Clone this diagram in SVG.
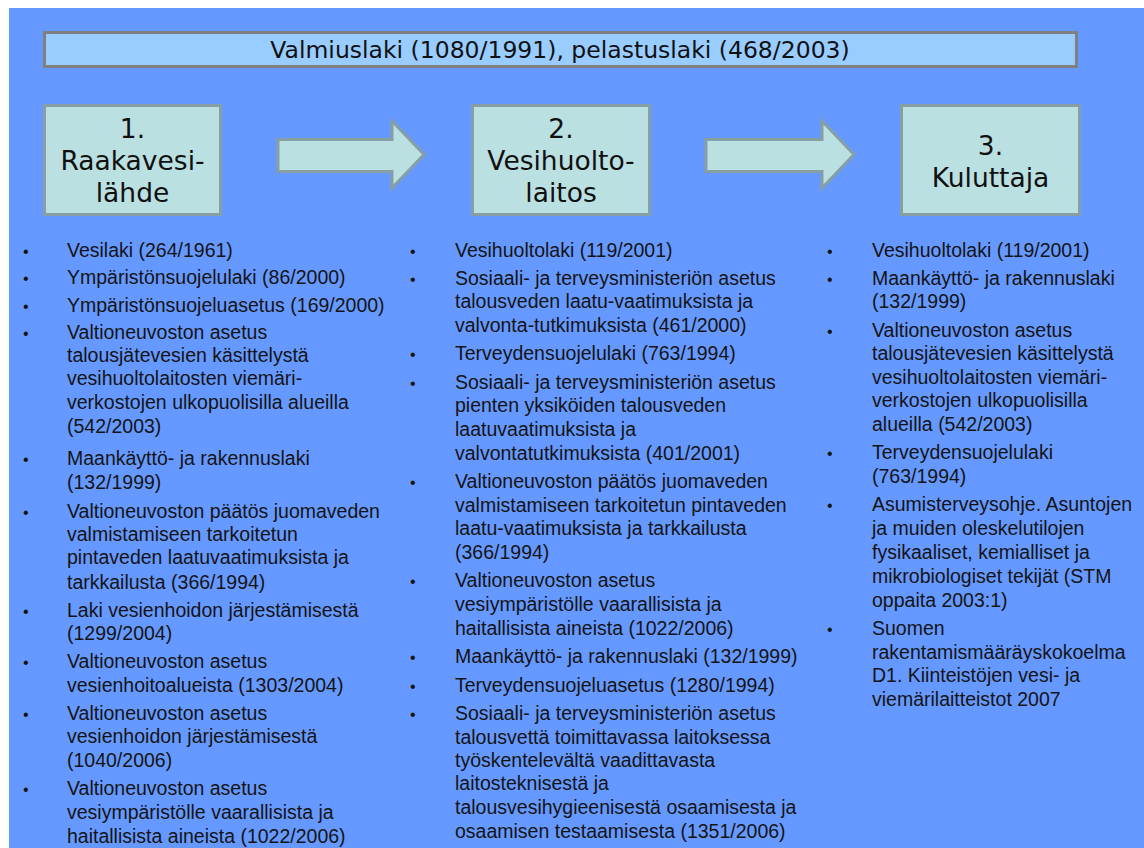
<svg xmlns="http://www.w3.org/2000/svg" width="1144" height="848" viewBox="0 0 1144 848">
<style>
.bg{fill:#6699FF}
.hdr{fill:#99CCFF;stroke:#808080;stroke-width:3}
.box{fill:#BBE0E2;stroke:#869FA3;stroke-width:3}
.arr{fill:#BBE0E2;stroke:#869FA3;stroke-width:3;stroke-linejoin:miter}
.ht{font-family:"DejaVu Sans",Verdana,sans-serif;font-size:23.5px;fill:#111;text-anchor:middle}
.bt{font-family:"DejaVu Sans",Verdana,sans-serif;font-size:26.5px;fill:#111;text-anchor:middle}
.li{font-family:"Liberation Sans",Arial,sans-serif;font-size:19.5px;fill:#141414}
.bu{font-family:"Liberation Sans",Arial,sans-serif;font-size:16px;fill:#141414}
</style>
<rect x="0" y="0" width="1144" height="848" fill="#FFFFFF"/>
<rect class="bg" x="9" y="8" width="1135" height="840"/>
<g id="header">
<rect class="hdr" x="44.5" y="32.5" width="1032" height="34"/>
<text class="ht" x="560" y="58">Valmiuslaki (1080/1991), pelastuslaki (468/2003)</text>
</g>
<g id="node1">
<rect class="box" x="44.5" y="105.5" width="176" height="109"/>
<text class="bt" x="132.5" y="138">1.</text>
<text class="bt" x="132.5" y="170">Raakavesi-</text>
<text class="bt" x="132.5" y="202">lähde</text>
</g>
<g id="node2">
<rect class="box" x="472.5" y="105.5" width="177" height="109"/>
<text class="bt" x="561" y="138">2.</text>
<text class="bt" x="561" y="170">Vesihuolto-</text>
<text class="bt" x="561" y="202">laitos</text>
</g>
<g id="node3">
<rect class="box" x="901.5" y="105.5" width="178" height="109"/>
<text class="bt" x="990.5" y="155">3.</text>
<text class="bt" x="990.5" y="187">Kuluttaja</text>
</g>
<g id="connectors">
<polygon class="arr" points="278,139.5 392,139.5 392,121 424,154.5 392,188 392,171.5 278,171.5"/>
<polygon class="arr" points="706,139.5 822,139.5 822,121 854,154.5 822,188 822,171.5 706,171.5"/>
</g>
<g id="list1">
<text class="bu" x="23" y="257">•</text><text class="li" x="67" y="257">Vesilaki (264/1961)</text>
<text class="bu" x="23" y="284">•</text><text class="li" x="67" y="284">Ympäristönsuojelulaki (86/2000)</text>
<text class="bu" x="23" y="312">•</text><text class="li" x="67" y="312">Ympäristönsuojeluasetus (169/2000)</text>
<text class="bu" x="23" y="339">•</text>
<text class="li" x="67" y="339">Valtioneuvoston asetus</text>
<text class="li" x="67" y="362">talousjätevesien käsittelystä</text>
<text class="li" x="67" y="385">vesihuoltolaitosten viemäri-</text>
<text class="li" x="67" y="409">verkostojen ulkopuolisilla alueilla</text>
<text class="li" x="67" y="433">(542/2003)</text>
<text class="bu" x="23" y="465">•</text>
<text class="li" x="67" y="465">Maankäyttö- ja rakennuslaki</text>
<text class="li" x="67" y="489">(132/1999)</text>
<text class="bu" x="23" y="518">•</text>
<text class="li" x="67" y="518">Valtioneuvoston päätös juomaveden</text>
<text class="li" x="67" y="541">valmistamiseen tarkoitetun</text>
<text class="li" x="67" y="564">pintaveden laatuvaatimuksista ja</text>
<text class="li" x="67" y="589">tarkkailusta (366/1994)</text>
<text class="bu" x="23" y="617">•</text>
<text class="li" x="67" y="617">Laki vesienhoidon järjestämisestä</text>
<text class="li" x="67" y="640">(1299/2004)</text>
<text class="bu" x="23" y="668">•</text>
<text class="li" x="67" y="668">Valtioneuvoston asetus</text>
<text class="li" x="67" y="692">vesienhoitoalueista (1303/2004)</text>
<text class="bu" x="23" y="720">•</text>
<text class="li" x="67" y="720">Valtioneuvoston asetus</text>
<text class="li" x="67" y="743">vesienhoidon järjestämisestä</text>
<text class="li" x="67" y="767">(1040/2006)</text>
<text class="bu" x="23" y="795">•</text>
<text class="li" x="67" y="795">Valtioneuvoston asetus</text>
<text class="li" x="67" y="819">vesiympäristölle vaarallisista ja</text>
<text class="li" x="67" y="843">haitallisista aineista (1022/2006)</text>
</g>
<g id="list2">
<text class="bu" x="410" y="257">•</text><text class="li" x="455" y="257">Vesihuoltolaki (119/2001)</text>
<text class="bu" x="410" y="285">•</text>
<text class="li" x="455" y="285">Sosiaali- ja terveysministeriön asetus</text>
<text class="li" x="455" y="308">talousveden laatu-vaatimuksista ja</text>
<text class="li" x="455" y="332">valvonta-tutkimuksista (461/2000)</text>
<text class="bu" x="410" y="360">•</text><text class="li" x="455" y="360">Terveydensuojelulaki (763/1994)</text>
<text class="bu" x="410" y="389">•</text>
<text class="li" x="455" y="389">Sosiaali- ja terveysministeriön asetus</text>
<text class="li" x="455" y="412">pienten yksiköiden talousveden</text>
<text class="li" x="455" y="436">laatuvaatimuksista ja</text>
<text class="li" x="455" y="460">valvontatutkimuksista (401/2001)</text>
<text class="bu" x="410" y="488">•</text>
<text class="li" x="455" y="488">Valtioneuvoston päätös juomaveden</text>
<text class="li" x="455" y="512">valmistamiseen tarkoitetun pintaveden</text>
<text class="li" x="455" y="535">laatu-vaatimuksista ja tarkkailusta</text>
<text class="li" x="455" y="559">(366/1994)</text>
<text class="bu" x="410" y="587">•</text>
<text class="li" x="455" y="587">Valtioneuvoston asetus</text>
<text class="li" x="455" y="611">vesiympäristölle vaarallisista ja</text>
<text class="li" x="455" y="635">haitallisista aineista (1022/2006)</text>
<text class="bu" x="410" y="663">•</text><text class="li" x="455" y="663">Maankäyttö- ja rakennuslaki (132/1999)</text>
<text class="bu" x="410" y="692">•</text><text class="li" x="455" y="692">Terveydensuojeluasetus (1280/1994)</text>
<text class="bu" x="410" y="720">•</text>
<text class="li" x="455" y="720">Sosiaali- ja terveysministeriön asetus</text>
<text class="li" x="455" y="744">talousvettä toimittavassa laitoksessa</text>
<text class="li" x="455" y="767">työskentelevältä vaadittavasta</text>
<text class="li" x="455" y="790">laitosteknisestä ja</text>
<text class="li" x="455" y="814">talousvesihygieenisestä osaamisesta ja</text>
<text class="li" x="455" y="838">osaamisen testaamisesta (1351/2006)</text>
</g>
<g id="list3">
<text class="bu" x="827" y="257">•</text><text class="li" x="872" y="257">Vesihuoltolaki (119/2001)</text>
<text class="bu" x="827" y="285">•</text>
<text class="li" x="872" y="285">Maankäyttö- ja rakennuslaki</text>
<text class="li" x="872" y="308">(132/1999)</text>
<text class="bu" x="827" y="337">•</text>
<text class="li" x="872" y="337">Valtioneuvoston asetus</text>
<text class="li" x="872" y="360">talousjätevesien käsittelystä</text>
<text class="li" x="872" y="384">vesihuoltolaitosten viemäri-</text>
<text class="li" x="872" y="407">verkostojen ulkopuolisilla</text>
<text class="li" x="872" y="431">alueilla (542/2003)</text>
<text class="bu" x="827" y="459">•</text>
<text class="li" x="872" y="459">Terveydensuojelulaki</text>
<text class="li" x="872" y="483">(763/1994)</text>
<text class="bu" x="827" y="511">•</text>
<text class="li" x="872" y="511">Asumisterveysohje. Asuntojen</text>
<text class="li" x="872" y="535">ja muiden oleskelutilojen</text>
<text class="li" x="872" y="559">fysikaaliset, kemialliset ja</text>
<text class="li" x="872" y="583">mikrobiologiset tekijät (STM</text>
<text class="li" x="872" y="607">oppaita 2003:1)</text>
<text class="bu" x="827" y="635">•</text>
<text class="li" x="872" y="635">Suomen</text>
<text class="li" x="872" y="659">rakentamismääräyskokoelma</text>
<text class="li" x="872" y="682">D1. Kiinteistöjen vesi- ja</text>
<text class="li" x="872" y="706">viemärilaitteistot 2007</text>
</g>
</svg>
